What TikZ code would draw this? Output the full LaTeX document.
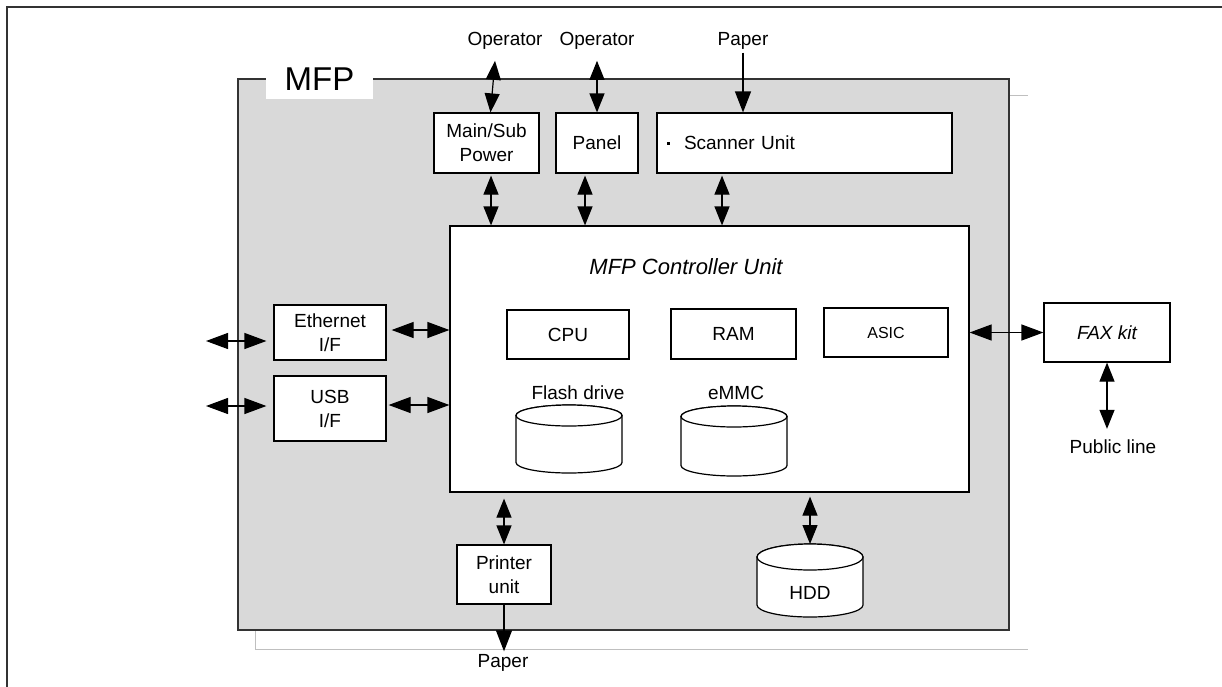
\documentclass[tikz,border=0pt]{standalone}
\usepackage{fontspec}
\setmainfont{Liberation Sans}
\usepackage{xcolor}
\usetikzlibrary{arrows.meta,shapes.geometric,positioning,calc}

\definecolor{mfpgray}{HTML}{D9D9D9}
\definecolor{edgegray}{HTML}{333333}

\tikzset{
  box/.style={draw, fill=white, line width=1.2pt, inner sep=0pt, align=center,
    font=\fontsize{19}{24}\selectfont},
  lbl/.style={inner sep=1pt, font=\fontsize{19}{24}\selectfont},
  disk/.style={draw, fill=white, line width=1.2pt},
  dbl/.style={{Triangle[length=19pt,width=15pt]}-{Triangle[length=19pt,width=15pt]}, line width=1.2pt},
  hdbl/.style={{Triangle[length=22pt,width=16pt]}-{Triangle[length=22pt,width=16pt]}, line width=1.2pt},
  sgl/.style={-{Triangle[length=21pt,width=16pt]}, line width=1.2pt}
}

\begin{document}
\begin{tikzpicture}[x=1pt,y=-1pt]
\useasboundingbox (0,0) rectangle (1222,686);
\clip (0,0) rectangle (1222,686);

% frame and MFP body
\draw[line width=2pt, edgegray] (7,7) rectangle (1240,700);
\draw[gray!50, line width=1pt] (1000,95) -- (1028,95);
\draw[gray!50, line width=1pt] (255,620) -- (255,649) -- (1028,649);
\node[draw=edgegray, fill=mfpgray, line width=1.8pt, minimum width=771pt, minimum height=551pt, inner sep=0pt] (mfp) at (623.5,354.5) {};
\node[fill=white, minimum width=107pt, minimum height=40pt, inner sep=0pt, font=\fontsize{33}{33}\selectfont] (mfplbl) at (319.5,79) {MFP};

% top row
\node[lbl] (op1) at (505,41) {Operator};
\node[lbl] (op2) at (597,41) {Operator};
\node[lbl] (paperin) at (743,41) {Paper};
\node[box, minimum width=105pt, minimum height=60pt] (mainsub) at (486.5,143) {Main/Sub\\Power};
\node[box, minimum width=82pt, minimum height=60pt] (panel) at (597,143) {Panel};
\node[box, minimum width=295pt, minimum height=60pt, text width=275pt, align=left, inner xsep=10pt] (scanner) at (804.5,143) {\raisebox{5pt}{\rule{3pt}{3pt}}\hspace{14pt}Scanner Unit};

% controller
\node[box, minimum width=519pt, minimum height=266pt] (ctrl) at (709.5,359) {};
\node[lbl, font=\fontsize{22}{24}\selectfont\itshape] (ctrltitle) at (686,267) {MFP Controller Unit};
\node[box, minimum width=122pt, minimum height=49pt] (cpu) at (568,334.5) {CPU};
\node[box, minimum width=125pt, minimum height=50pt] (ram) at (733.5,334) {RAM};
\node[box, minimum width=124pt, minimum height=49pt, font=\fontsize{16}{18}\selectfont] (asic) at (886,332.5) {ASIC};
\node[lbl] (flashlbl) at (578,393) {Flash drive};
\node[lbl] (emmclbl) at (736,393) {eMMC};

% storage drums
\draw[disk] (516,415.5) -- (516,462.5) arc[start angle=180, end angle=0, x radius=53, y radius=10.5]
  -- (622,415.5) arc[start angle=0, end angle=-180, x radius=53, y radius=10.5] -- cycle;
\draw[disk] (569,415.5) ellipse[x radius=53, y radius=10.5];
\draw[disk] (681,416.5) -- (681,465.5) arc[start angle=180, end angle=0, x radius=53, y radius=10.5]
  -- (787,416.5) arc[start angle=0, end angle=-180, x radius=53, y radius=10.5] -- cycle;
\draw[disk] (734,416.5) ellipse[x radius=53, y radius=10.5];
\draw[disk] (757,557) -- (757,605) arc[start angle=180, end angle=0, x radius=53, y radius=12]
  -- (863,557) arc[start angle=0, end angle=-180, x radius=53, y radius=13] -- cycle;
\draw[disk] (810,557) ellipse[x radius=53, y radius=13];
\coordinate (hdd) at (810,544);
\node[lbl] (hddlbl) at (810,593) {HDD};

% interfaces
\node[box, minimum width=112pt, minimum height=55pt] (eth) at (330,332.5) {Ethernet\\I/F};
\node[box, minimum width=112pt, minimum height=65pt] (usb) at (330,408.5) {USB\\I/F};
\coordinate (ethout) at (206,341);
\coordinate (usbout) at (206,406);

% outside and bottom
\node[box, minimum width=126pt, minimum height=59pt, font=\fontsize{19}{24}\selectfont\itshape] (fax) at (1107,332.5) {FAX kit};
\node[lbl] (public) at (1113,447) {Public line};
\node[box, minimum width=94pt, minimum height=59pt] (printer) at (504,574.5) {Printer\\unit};
\node[lbl] (paperout) at (503,663) {Paper};

% connectors
\draw[dbl] ([xshift=-10pt,yshift=-10pt]op1.south) -- ([xshift=4pt]mainsub.north);
\draw[dbl] ([yshift=-10pt]op2.south) -- (panel.north);
\draw[sgl] ([yshift=-2pt]paperin.south) -- (scanner.north -| paperin.south);
\draw[dbl] ([xshift=4.5pt,yshift=-2pt]mainsub.south) coordinate (a1) -- (a1 |- ctrl.north);
\draw[dbl] ([xshift=-12pt,yshift=-2pt]panel.south) coordinate (a2) -- (a2 |- ctrl.north);
\draw[dbl] ([xshift=-82.5pt,yshift=-2pt]scanner.south) coordinate (a3) -- (a3 |- ctrl.north);
\draw[hdbl] (ethout) -- ([xshift=-7pt]ethout -| eth.west);
\draw[hdbl] (usbout) -- ([xshift=-7pt]usbout -| usb.west);
\draw[hdbl] ([xshift=5pt,yshift=2.5pt]eth.east) coordinate (b1) -- (b1 -| ctrl.west);
\draw[hdbl] ([xshift=2pt,yshift=3.5pt]usb.east) coordinate (b2) -- (b2 -| ctrl.west);
\draw[hdbl] (fax.west -| ctrl.east) -- (fax.west);
\draw[dbl] (fax.south) -- ([yshift=10pt]fax.south |- public.north);
\draw[dbl] ([yshift=-6pt]printer.north |- ctrl.south) -- (printer.north);
\draw[sgl] (printer.south) -- ([yshift=2pt]printer.south |- paperout.north);
\draw[dbl] ([yshift=-4pt]hdd |- ctrl.south) -- (hdd);

\end{tikzpicture}
\end{document}
